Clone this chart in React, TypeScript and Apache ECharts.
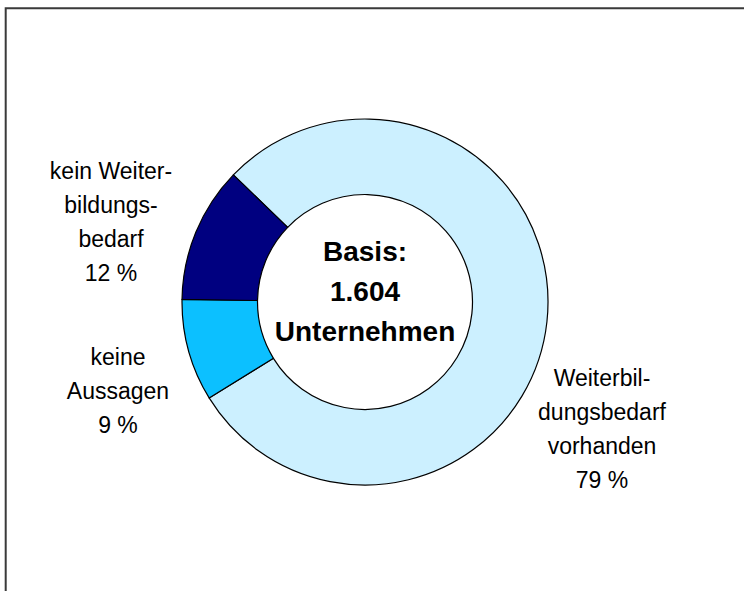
import React, { useEffect, useRef } from "react";
import * as echarts from "echarts";

// Data
const categories: string[] = [
  "Weiterbil-\ndungsbedarf\nvorhanden",
  "keine\nAussagen",
  "kein Weiter-\nbildungs-\nbedarf",
];
const values: number[] = [79, 9, 12];
const sliceColors: string[] = ["#CCF0FF", "#0CC0FF", "#000080"];
const centerLines: string[] = ["Basis:", "1.604", "Unternehmen"];

// Layout (pixel positions of label blocks, not data)
const labelCenters: [number, number][] = [
  [602, 429],
  [118, 391],
  [111, 222],
];

const FONT = '"Liberation Sans", Arial, Helvetica, sans-serif';

export default function App() {
  const ref = useRef<HTMLDivElement>(null);

  useEffect(() => {
    if (!ref.current) return;
    const chart = echarts.init(ref.current, null, { renderer: "svg" });
    const cx = 365;
    const cy = 302;
    chart.setOption({
      animation: false,
      backgroundColor: "#ffffff",
      graphic: [
        {
          type: "rect",
          shape: { x: 5.7, y: 8.3, width: 800, height: 700 },
          style: { fill: "none", stroke: "#3a3a3a", lineWidth: 2 },
          silent: true,
          z: 1,
        },
        {
          type: "text",
          x: cx,
          y: 291,
          z: 10,
          style: {
            text: centerLines.join("\n"),
            align: "center",
            verticalAlign: "middle",
            font: `bold 28px ${FONT}`,
            lineHeight: 40,
            fill: "#000000",
          },
          silent: true,
        },
      ],
      series: [
        {
          type: "pie",
          center: [cx, cy],
          radius: [107.5, 183],
          startAngle: 136,
          clockwise: true,
          avoidLabelOverlap: false,
          silent: true,
          emphasis: { disabled: true },
          itemStyle: { borderColor: "#000000", borderWidth: 1.2 },
          label: {
            show: true,
            position: "outside",
            formatter: (p: any) => `${p.name}\n${p.value} %`,
            color: "#000000",
            fontFamily: FONT,
            fontSize: 23,
            lineHeight: 34,
            align: "center",
          },
          labelLine: { show: false },
          labelLayout: (params: any) => {
            const c = labelCenters[params.dataIndex];
            return {
              x: c[0],
              y: c[1],
              align: "center",
              verticalAlign: "middle",
            };
          },
          data: categories.map((name, i) => ({
            name,
            value: values[i],
            itemStyle: { color: sliceColors[i] },
          })),
        },
      ],
    });
    return () => chart.dispose();
  }, []);

  return (
    <div
      ref={ref}
      style={{ position: "absolute", left: 0, top: 0, width: 744, height: 591 }}
    />
  );
}
